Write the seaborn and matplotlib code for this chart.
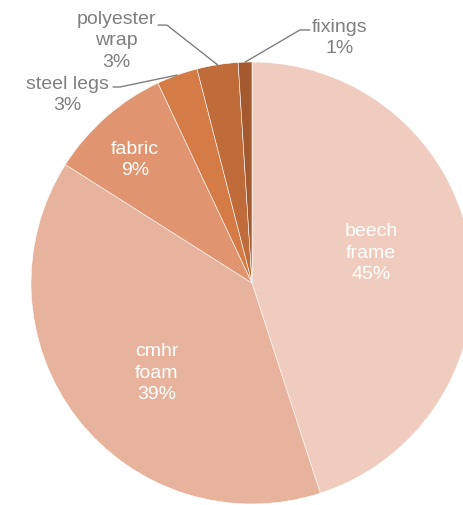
import numpy as np
import matplotlib
matplotlib.use('Agg')
import matplotlib.pyplot as plt
import seaborn as sns

# Material shares (percent), clockwise from 12 o'clock
materials = ['beech\nframe', 'cmhr\nfoam', 'fabric', 'steel legs', 'polyester\nwrap', 'fixings']
shares = [45, 39, 9, 3, 3, 1]
colours = ['#F0CCBE', '#E8B39C', '#E09470', '#D57B45', '#C06B3A', '#A4592F']

# label positions (data coords, pie radius = 1)
inside_pos = {0: (0.538, 0.140), 1: (-0.430, -0.403), 2: (-0.529, 0.561)}
outside_pos = {3: (-0.837, 0.855), 4: (-0.615, 1.100), 5: (0.398, 1.113)}
elbow_pos = {3: [(-0.629, 0.887), (-0.597, 0.887)],
             4: [(-0.425, 1.167), (-0.385, 1.167)],
             5: [(0.262, 1.145), (0.217, 1.145)]}

sns.set_style('white')
plt.rcParams['font.family'] = ['Liberation Sans', 'DejaVu Sans']

fig = plt.figure(figsize=(4.64, 5.06), dpi=100)
ax = fig.add_axes([0, 0, 1, 1])

wedges, _ = ax.pie(shares, colors=sns.color_palette(colours), startangle=90,
                   counterclock=False, radius=1,
                   wedgeprops=dict(edgecolor='white', linewidth=0.4))

for i, w in enumerate(wedges):
    label = f'{materials[i]}\n{shares[i]}%'
    if i in inside_pos:
        x, y = inside_pos[i]
        ax.text(x, y, label, ha='center', va='center', color='white',
                fontsize=14, linespacing=1.33, multialignment='center')
    else:
        x, y = outside_pos[i]
        ax.text(x, y, label, ha='center', va='center', color='#7F7F7F',
                fontsize=14, linespacing=1.33, multialignment='center')
        mid = np.deg2rad((w.theta1 + w.theta2) / 2)
        pts = elbow_pos[i] + [(np.cos(mid), np.sin(mid))]
        ax.plot([p[0] for p in pts], [p[1] for p in pts], color='#7F7F7F', lw=1)

ax.set_aspect('auto')
ax.set_xlim(-252 / 221, 212 / 221)
ax.set_ylim(-222 / 221, 284 / 221)
ax.axis('off')

fig.savefig('out.png', dpi=100)
